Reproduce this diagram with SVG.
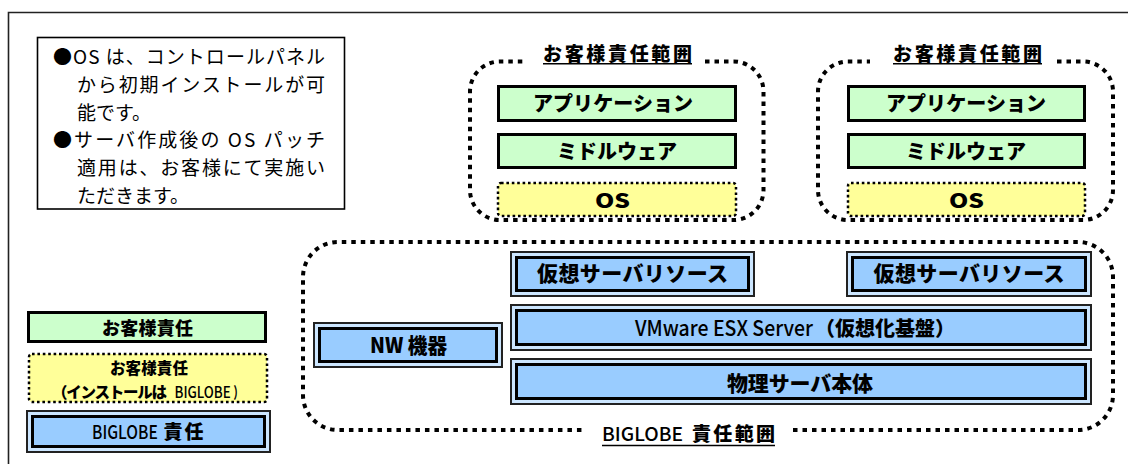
<svg xmlns="http://www.w3.org/2000/svg" width="1128" height="464" viewBox="0 0 1128 464">
<style>
text{font-family:"Noto Sans CJK JP","Noto Sans",sans-serif;fill:#000}
.b{font-weight:900}
.r{font-weight:500}
.g{fill:#CCFFCC;stroke:#000;stroke-width:3}
.y{fill:#FFFF99;stroke:#000;stroke-width:2.5;stroke-dasharray:2.6 2.8}
.bo{fill:#CCE6FF;stroke:#222;stroke-width:2}
.bi{fill:#99CCFF;stroke:#000;stroke-width:3}
.dot{fill:none;stroke:#000;stroke-width:4;stroke-dasharray:4.5 5}
.ul{stroke:#000;stroke-width:1.5}
</style>
<rect width="1128" height="464" fill="#fff"/>
<path d="M8.5,464 V12.5 H1128" fill="none" stroke="#222" stroke-width="1.6"/>

<g id="note">
<rect x="37.5" y="37.5" width="307" height="171.5" fill="#fff" stroke="#000" stroke-width="1.6"/>
<text x="53" y="63.7" font-size="19" textLength="272" lengthAdjust="spacing">●OS は、コントロールパネル</text>
<text x="77" y="91.6" font-size="19" textLength="248" lengthAdjust="spacing">から初期インストールが可</text>
<text x="77" y="119.5" font-size="19">能です。</text>
<text x="53" y="147.4" font-size="19" textLength="272" lengthAdjust="spacing">●サーバ作成後の OS パッチ</text>
<text x="77" y="175.3" font-size="19" textLength="248" lengthAdjust="spacing">適用は、お客様にて実施い</text>
<text x="77" y="203.2" font-size="19">ただきます。</text>
</g>

<g id="customer-scope-1">
<path class="dot" d="M705,61.5 H733.5 A30,30 0 0 1 763.5,91.5 V190 A30,30 0 0 1 733.5,220 H500 A30,30 0 0 1 470,190 V91.5 A30,30 0 0 1 500,61.5 H525"/>
<text class="b" x="543" y="61" font-size="19" textLength="149" lengthAdjust="spacing">お客様責任範囲</text>
<line class="ul" x1="543" y1="63.8" x2="692" y2="63.8"/>
</g>
<g id="app-1">
<rect class="g" x="498.5" y="86.5" width="237" height="34"/>
<text class="b" x="533" y="110.8" font-size="20" textLength="160" lengthAdjust="spacing">アプリケーション</text>
</g>
<g id="mw-1">
<rect class="g" x="498.5" y="134.5" width="237" height="33"/>
<text class="b" x="557" y="158.8" font-size="20" textLength="120" lengthAdjust="spacing">ミドルウェア</text>
</g>
<g id="os-1">
<rect class="y" x="498" y="183" width="238" height="33" rx="3"/>
<text class="b" x="595" y="207.5" font-size="20" textLength="35" lengthAdjust="spacingAndGlyphs">OS</text>
</g>

<g id="customer-scope-2">
<path class="dot" d="M1057,61.5 H1083 A30,30 0 0 1 1113,91.5 V190 A30,30 0 0 1 1083,220 H848 A30,30 0 0 1 818,190 V91.5 A30,30 0 0 1 848,61.5 H870"/>
<text class="b" x="893" y="61" font-size="19" textLength="149" lengthAdjust="spacing">お客様責任範囲</text>
<line class="ul" x1="893" y1="63.8" x2="1042" y2="63.8"/>
</g>
<g id="app-2">
<rect class="g" x="848.5" y="86.5" width="236" height="34"/>
<text class="b" x="886" y="110.8" font-size="20" textLength="160" lengthAdjust="spacing">アプリケーション</text>
</g>
<g id="mw-2">
<rect class="g" x="848.5" y="134.5" width="236" height="33"/>
<text class="b" x="906" y="158.8" font-size="20" textLength="120" lengthAdjust="spacing">ミドルウェア</text>
</g>
<g id="os-2">
<rect class="y" x="848" y="183" width="237" height="33" rx="3"/>
<text class="b" x="949" y="207.5" font-size="20" textLength="35" lengthAdjust="spacingAndGlyphs">OS</text>
</g>

<g id="biglobe-scope">
<path class="dot" d="M793,430 H1078 A35,35 0 0 0 1113,395 V277 A35,35 0 0 0 1078,242 H338 A35,35 0 0 0 303,277 V395 A35,35 0 0 0 338,430 H582"/>
<text class="r" x="602" y="441" font-size="19" textLength="81" lengthAdjust="spacingAndGlyphs">BIGLOBE</text>
<text class="b" x="692" y="441" font-size="19" textLength="83" lengthAdjust="spacing">責任範囲</text>
<line class="ul" x1="602" y1="445.5" x2="775" y2="445.5"/>
</g>

<g id="vres-1">
<rect class="bo" x="511" y="252" width="243" height="44"/>
<rect class="bi" x="516.5" y="257.5" width="232" height="33"/>
<text class="b" x="537" y="281" font-size="21" textLength="191" lengthAdjust="spacing">仮想サーバリソース</text>
</g>
<g id="vres-2">
<rect class="bo" x="847" y="252" width="244" height="44"/>
<rect class="bi" x="852.5" y="257.5" width="233" height="33"/>
<text class="b" x="873.5" y="281" font-size="21" textLength="191" lengthAdjust="spacing">仮想サーバリソース</text>
</g>
<g id="vmware">
<rect class="bo" x="511" y="305" width="580" height="45"/>
<rect class="bi" x="516.5" y="310.5" width="569" height="34"/>
<text class="r" x="635" y="336" font-size="21" textLength="178" lengthAdjust="spacingAndGlyphs">VMware ESX Server</text>
<text class="b" x="815" y="336" font-size="20" textLength="140" lengthAdjust="spacing">（仮想化基盤）</text>
</g>
<g id="physical">
<rect class="bo" x="511" y="359" width="580" height="45"/>
<rect class="bi" x="516.5" y="364.5" width="569" height="34"/>
<text class="b" x="727" y="391" font-size="21" textLength="146" lengthAdjust="spacing">物理サーバ本体</text>
</g>
<g id="nw">
<rect class="bo" x="314" y="323" width="188" height="44"/>
<rect class="bi" x="319.5" y="328.5" width="177" height="33"/>
<text class="b" x="370" y="353" font-size="21" textLength="77" lengthAdjust="spacingAndGlyphs">NW 機器</text>
</g>

<g id="legend-customer">
<rect class="g" x="28.5" y="312.5" width="237" height="29"/>
<text class="b" x="102" y="334.8" font-size="18" textLength="91" lengthAdjust="spacing">お客様責任</text>
</g>
<g id="legend-customer-install">
<rect class="y" x="29" y="354" width="238" height="48" rx="3"/>
<text class="b" x="110" y="373.8" font-size="15.5" textLength="78" lengthAdjust="spacing">お客様責任</text>
<text class="b" x="52" y="397.8" font-size="15.5" textLength="115" lengthAdjust="spacing">（インストールは</text>
<text class="r" font-size="15.5" transform="translate(174.5,397.8) scale(0.86,1)">BIGLOBE</text>
<text class="b" font-size="15.5" transform="translate(233.5,397.8) scale(0.6,1)">）</text>
</g>
<g id="legend-biglobe">
<rect class="bo" x="27" y="411" width="243" height="41"/>
<rect class="bi" x="32.5" y="416.5" width="232" height="30"/>
<text class="r" font-size="19" transform="translate(92,439.2) scale(0.82,1)">BIGLOBE</text>
<text class="b" x="163.5" y="439.2" font-size="19" textLength="40" lengthAdjust="spacing">責任</text>
</g>
</svg>
